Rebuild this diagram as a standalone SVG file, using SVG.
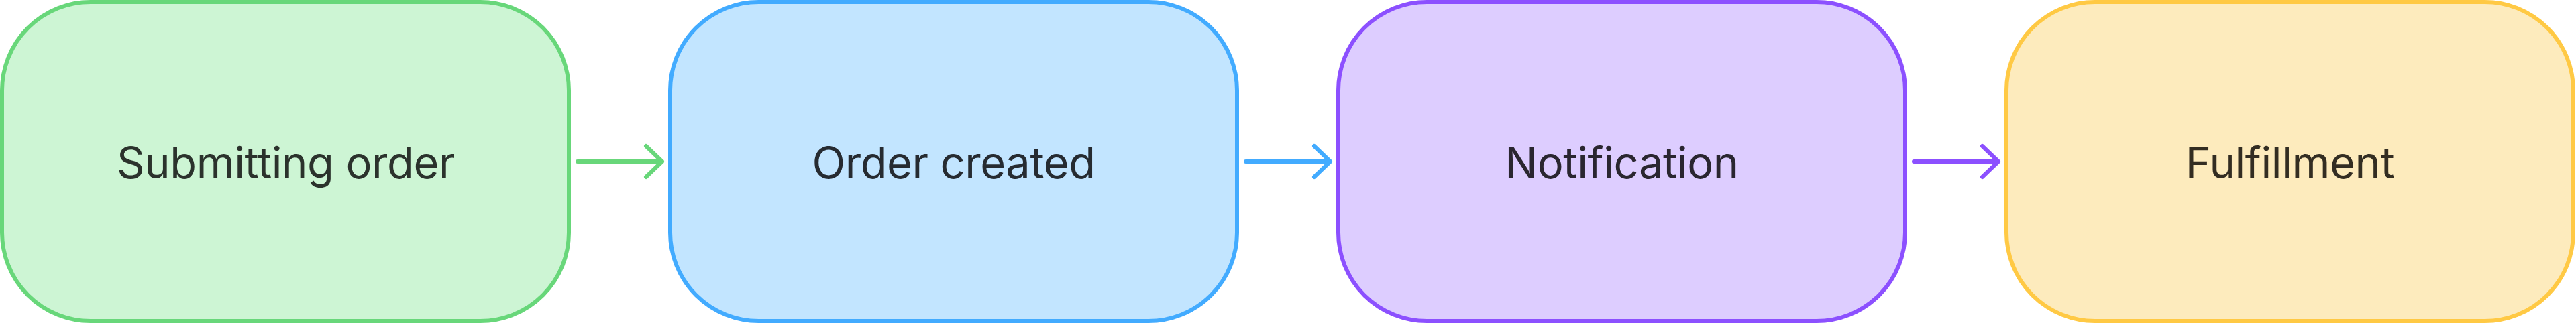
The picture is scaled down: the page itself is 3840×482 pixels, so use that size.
<svg xmlns="http://www.w3.org/2000/svg" width="3840" height="482" viewBox="0 0 3840 482">
<style>
.box{stroke-width:6}
.lbl{font-family:Inter,"Noto Sans",sans-serif;font-size:65px;letter-spacing:-0.4px;text-anchor:middle}
.edge{fill:none;stroke-width:6;stroke-linecap:round;stroke-linejoin:round}
</style>
<rect width="3840" height="482" fill="#ffffff"/>
<g id="node-submitting">
<rect class="box" x="3" y="3" width="845" height="476" rx="132" fill="#cdf5d4" stroke="#68d77a"/>
<text class="lbl" x="426" y="265.5" fill="#2b322c">Submitting order</text>
</g>
<g id="node-order-created">
<rect class="box" x="999" y="3" width="845" height="476" rx="132" fill="#c2e5ff" stroke="#42abff"/>
<text class="lbl" x="1421.5" y="265.5" fill="#262b31">Order created</text>
</g>
<g id="node-notification">
<rect class="box" x="1995" y="3" width="845" height="476" rx="132" fill="#ddcdff" stroke="#8c50ff"/>
<text class="lbl" x="2417.5" y="265.5" fill="#2a2630">Notification</text>
</g>
<g id="node-fulfillment">
<rect class="box" x="2991" y="3" width="845" height="476" rx="132" fill="#fdebbd" stroke="#ffc944"/>
<text class="lbl" x="3413.5" y="265.5" fill="#332d22">Fulfillment</text>
</g>
<g id="connectors">
<path class="edge" stroke="#68d77a" d="M861 241 H987 M963 218 L987 241 L963 264"/>
<path class="edge" stroke="#42abff" d="M1857 241 H1983 M1959 218 L1983 241 L1959 264"/>
<path class="edge" stroke="#8c50ff" d="M2853 241 H2979 M2955 218 L2979 241 L2955 264"/>
</g>
</svg>
